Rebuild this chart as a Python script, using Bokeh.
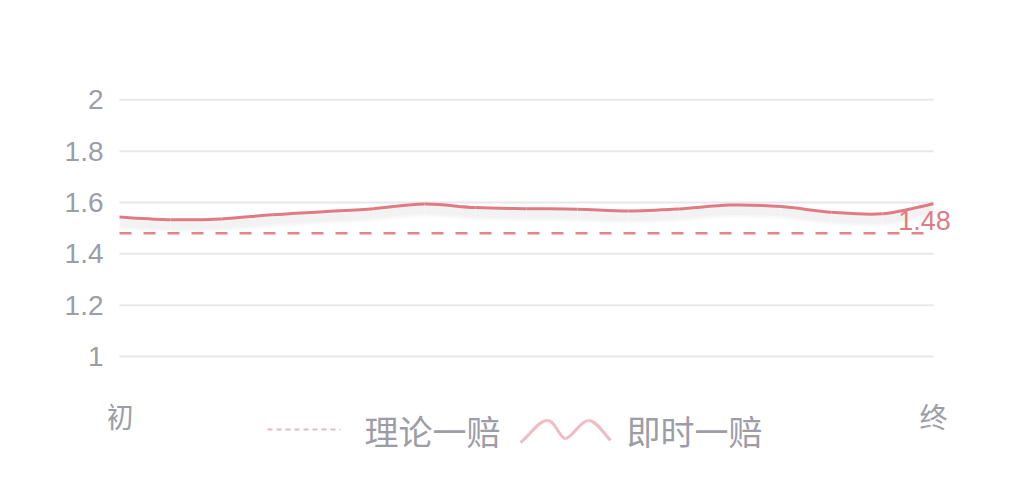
from bokeh.plotting import figure
from bokeh.models import Range1d, FixedTicker, NumeralTickFormatter
from bokeh.core.properties import value
from bokeh.embed import file_html
from bokeh.resources import INLINE

# ---------------- data ----------------
x_labels = ["初", "终"]
live_odds = [1.543, 1.533, 1.536, 1.552, 1.564, 1.576, 1.594, 1.580, 1.576,
             1.574, 1.567, 1.575, 1.590, 1.584, 1.562, 1.556, 1.595]
theory_odds = 1.48
y_ticks = [1, 1.2, 1.4, 1.6, 1.8, 2]
legend_labels = ["理论一赔", "即时一赔"]

# ---------------- layout (figure pixels) ----------------
W, H = 994, 482
FL, FR, FT, FB = 108, 968, 60, 472          # frame edges
X0_PX, X1_PX = 119, 933                     # first / last category
Y_LO_PX, Y_HI_PX = 356, 99.3                # pixel rows of lowest / highest tick

n = len(live_odds)
idx = list(range(n))
xscale = (X1_PX - X0_PX) / (n - 1)
x_start = -(X0_PX - FL) / xscale
x_end = (n - 1) + (FR - X1_PX) / xscale
yscale = (Y_LO_PX - Y_HI_PX) / (y_ticks[-1] - y_ticks[0])
y_end = y_ticks[-1] + (Y_HI_PX - FT) / yscale
y_start = y_ticks[0] - (FB - Y_LO_PX) / yscale


def px_x(px):
    return x_start + (px - FL) / xscale


def px_y(py):
    return y_end - (py - FT) / yscale


def smooth_segments(xs, ys):
    """Catmull-Rom style control points for a smoothed rendering of the series."""
    m = len(xs)
    out = {k: [] for k in ("x0", "y0", "x1", "y1", "cx0", "cy0", "cx1", "cy1")}
    for i in range(m - 1):
        a = max(i - 1, 0)
        b = min(i + 2, m - 1)
        out["x0"].append(xs[i]); out["y0"].append(ys[i])
        out["x1"].append(xs[i + 1]); out["y1"].append(ys[i + 1])
        out["cx0"].append(xs[i] + (xs[i + 1] - xs[a]) / 6)
        out["cy0"].append(ys[i] + (ys[i + 1] - ys[a]) / 6)
        out["cx1"].append(xs[i + 1] - (xs[b] - xs[i]) / 6)
        out["cy1"].append(ys[i + 1] - (ys[b] - ys[i]) / 6)
    return out


GRAY = "#9d9da8"
RED = "#e07b83"
CJK = value("Noto Sans CJK SC")

p = figure(width=W, height=H, x_range=Range1d(x_start, x_end),
           y_range=Range1d(y_start, y_end), x_axis_location=None,
           min_border_left=FL, min_border_right=W - FR,
           min_border_top=FT, min_border_bottom=H - FB,
           toolbar_location=None, output_backend="svg",
           outline_line_color=None, background_fill_color="white")
p.grid.visible = False

ax = p.yaxis[0]
ax.ticker = FixedTicker(ticks=y_ticks)
ax.formatter = NumeralTickFormatter(format="0.[0]")
ax.axis_line_color = None
ax.major_tick_line_color = None
ax.minor_tick_line_color = None
ax.major_tick_out = 0
ax.major_tick_in = 0
ax.major_label_standoff = 5
ax.major_label_text_font = "Liberation Sans"
ax.major_label_text_font_size = "28px"
ax.major_label_text_color = GRAY

# grid lines spanning the category extent
p.segment(x0=[0] * len(y_ticks), x1=[n - 1] * len(y_ticks), y0=y_ticks, y1=y_ticks,
          line_color="#e8e8eb", line_width=2)

# soft shadow beneath the live line
for k in range(1, 8):
    s = smooth_segments(idx, [v - (1.5 * k) / yscale for v in live_odds])
    p.bezier(**s, line_color="#000000", line_alpha=0.016, line_width=5)

# theory dashed line
p.line([0, n - 1], [theory_odds, theory_odds], line_color="#e5838a",
       line_width=2.5, line_dash="12 12")

# live line (smoothed)
p.bezier(**smooth_segments(idx, live_odds), line_color=RED, line_width=3)

# mark label
p.text(x=[n - 1], y=[theory_odds], text=[f"{theory_odds:.2f}"], x_offset=-9, y_offset=-13,
       text_align="center", text_baseline="middle",
       text_font=value("Liberation Sans"), text_font_size="27px", text_color=RED)

# category labels at both ends
p.text(x=[0, n - 1], y=[px_y(415)] * 2, text=x_labels, text_align="center",
       text_baseline="middle", text_font=CJK, text_font_size="28px", text_color=GRAY)

# legend
p.line([px_x(267), px_x(340)], [px_y(429)] * 2, line_color="#ebb6c4",
       line_width=2, line_dash="5 4")
p.text(x=[px_x(364)], y=[px_y(430)], text=[legend_labels[0]], text_align="left",
       text_baseline="middle", text_font=CJK, text_font_size="34px", text_color=GRAY)

segs = [((520, 442), (547, 420), (530, 434), (538, 420)),
        ((547, 420), (565, 438), (555, 420), (559, 438)),
        ((565, 438), (588, 420), (571, 438), (580, 420)),
        ((588, 420), (610, 440), (596, 420), (604, 434))]
p.bezier(x0=[px_x(s[0][0]) for s in segs], y0=[px_y(s[0][1]) for s in segs],
         x1=[px_x(s[1][0]) for s in segs], y1=[px_y(s[1][1]) for s in segs],
         cx0=[px_x(s[2][0]) for s in segs], cy0=[px_y(s[2][1]) for s in segs],
         cx1=[px_x(s[3][0]) for s in segs], cy1=[px_y(s[3][1]) for s in segs],
         line_color="#f0bcc4", line_width=3)
p.text(x=[px_x(626)], y=[px_y(430)], text=[legend_labels[1]], text_align="left",
       text_baseline="middle", text_font=CJK, text_font_size="34px", text_color=GRAY)

open("out.html", "w").write(file_html(p, INLINE))
